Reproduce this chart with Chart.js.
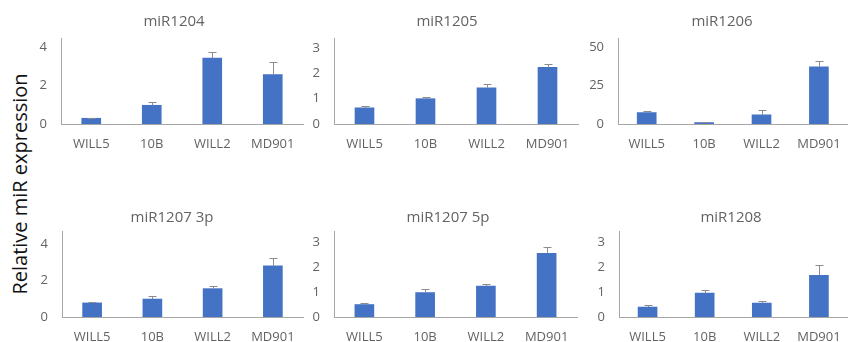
<!DOCTYPE html>
<html>
<head>
<meta charset="utf-8">
<script src="https://cdn.jsdelivr.net/npm/chart.js@4.4.1/dist/chart.umd.min.js"></script>
<style>
  html, body { margin: 0; padding: 0; background: #fff; }
  #wrap { position: relative; width: 853px; height: 342px; overflow: hidden; }
  #wrap canvas { position: absolute; }
  #ylabel {
    position: absolute; left: 19px; top: 184px;
    transform: translate(-50%, -50%) rotate(-90deg);
    white-space: nowrap; font-family: "Open Sans", sans-serif; font-size: 20px; color: #111;
  }
</style>
</head>
<body>
<div id="wrap">
  <div id="ylabel">Relative miR expression</div>
</div>
<script>
// ---- Data ----
const categories = ['WILL5', '10B', 'WILL2', 'MD901'];
const panelTitles = ['miR1204', 'miR1205', 'miR1206', 'miR1207 3p', 'miR1207 5p', 'miR1208'];

const miR1204Values = [0.30, 0.98, 3.45, 2.58];
const miR1204Errors = [0.03, 0.16, 0.32, 0.67];
const miR1205Values = [0.64, 1.00, 1.43, 2.24];
const miR1205Errors = [0.06, 0.05, 0.14, 0.15];
const miR1206Values = [7.4, 1.0, 5.9, 37.3];
const miR1206Errors = [1.3, 0.3, 3.3, 3.7];
const miR1207_3pValues = [0.77, 0.98, 1.55, 2.80];
const miR1207_3pErrors = [0.07, 0.15, 0.13, 0.40];
const miR1207_5pValues = [0.50, 0.98, 1.24, 2.55];
const miR1207_5pErrors = [0.08, 0.15, 0.09, 0.26];
const miR1208Values = [0.40, 0.96, 0.56, 1.67];
const miR1208Errors = [0.10, 0.12, 0.07, 0.40];

const yTicks1204 = [0, 2, 4];
const yTicks1205 = [0, 1, 2, 3];
const yTicks1206 = [0, 25, 50];
const yTicks1207_3p = [0, 2, 4];
const yTicks1207_5p = [0, 1, 2, 3];
const yTicks1208 = [0, 1, 2, 3];

const yMax = [4.5, 3.4, 56, 4.7, 3.45, 3.45];

// ---- Layout (page pixels) ----
const panels = [
  { values: miR1204Values, errors: miR1204Errors, ticks: yTicks1204,
    left: 30, top: 0, width: 280, height: 170, axisX: 61, right: 303, plotTop: 38, plotBottom: 124, titleX: 174, titleY: 22 },
  { values: miR1205Values, errors: miR1205Errors, ticks: yTicks1205,
    left: 310, top: 0, width: 280, height: 170, axisX: 334, right: 578, plotTop: 38, plotBottom: 124, titleX: 447, titleY: 22 },
  { values: miR1206Values, errors: miR1206Errors, ticks: yTicks1206,
    left: 590, top: 0, width: 263, height: 170, axisX: 618, right: 850, plotTop: 38, plotBottom: 124, titleX: 722, titleY: 22 },
  { values: miR1207_3pValues, errors: miR1207_3pErrors, ticks: yTicks1207_3p,
    left: 30, top: 170, width: 280, height: 172, axisX: 62, right: 303, plotTop: 231, plotBottom: 317, titleX: 172, titleY: 218 },
  { values: miR1207_5pValues, errors: miR1207_5pErrors, ticks: yTicks1207_5p,
    left: 310, top: 170, width: 280, height: 172, axisX: 334, right: 577, plotTop: 231, plotBottom: 317, titleX: 448, titleY: 218 },
  { values: miR1208Values, errors: miR1208Errors, ticks: yTicks1208,
    left: 590, top: 170, width: 263, height: 172, axisX: 619, right: 850, plotTop: 231, plotBottom: 317, titleX: 731, titleY: 218 }
];

const FONT = '"Open Sans", sans-serif';
const TEXT_GRAY = '#636363';

// error bars: plus side only, with a small cap
const errorBarPlugin = {
  id: 'errorBars',
  afterDatasetsDraw(chart, args, opts) {
    const ctx = chart.ctx;
    const yScale = chart.scales.y;
    chart.data.datasets.forEach((ds, di) => {
      const meta = chart.getDatasetMeta(di);
      meta.data.forEach((bar, i) => {
        const v = ds.data[i], e = ds.errors[i];
        const yTop = Math.round(yScale.getPixelForValue(v + e)) + 0.5;
        const x = Math.round(bar.x) + 0.5;
        ctx.save();
        ctx.strokeStyle = '#8c8c8c';
        ctx.lineWidth = 1;
        ctx.beginPath();
        ctx.moveTo(x, bar.y);
        ctx.lineTo(x, yTop);
        ctx.moveTo(x - 4, yTop);
        ctx.lineTo(x + 4, yTop);
        ctx.stroke();
        ctx.restore();
      });
    });
  }
};

const panelTitlePlugin = {
  id: 'panelTitle',
  afterDraw(chart, args, opts) {
    const ctx = chart.ctx;
    ctx.save();
    ctx.font = '15px ' + FONT;
    ctx.fillStyle = TEXT_GRAY;
    ctx.textAlign = 'center';
    ctx.textBaseline = 'middle';
    ctx.fillText(opts.text, opts.x, opts.y);
    ctx.restore();
  }
};

const wrap = document.getElementById('wrap');

panels.forEach((p, idx) => {
  const canvas = document.createElement('canvas');
  canvas.style.left = p.left + 'px';
  canvas.style.top = p.top + 'px';
  canvas.style.width = p.width + 'px';
  canvas.style.height = p.height + 'px';
  canvas.width = p.width;
  canvas.height = p.height;
  wrap.appendChild(canvas);

  const yAxisWidth = p.axisX - p.left;
  const xAxisHeight = p.top + p.height - p.plotBottom;

  new Chart(canvas.getContext('2d'), {
    type: 'bar',
    data: {
      labels: categories,
      datasets: [{
        data: p.values,
        errors: p.errors,
        backgroundColor: '#4472C4',
        borderWidth: 0,
        barThickness: 19,
        categoryPercentage: 1,
        barPercentage: 0.31
      }]
    },
    plugins: [errorBarPlugin, panelTitlePlugin],
    options: {
      responsive: false,
      animation: false,
      devicePixelRatio: 1,
      layout: {
        padding: { top: p.plotTop - p.top, right: p.left + p.width - p.right, left: 0, bottom: 0 }
      },
      plugins: {
        legend: { display: false },
        tooltip: { enabled: false },
        panelTitle: { text: panelTitles[idx], x: p.titleX - p.left, y: p.titleY - p.top }
      },
      scales: {
        x: {
          offset: true,
          grid: { display: false, drawTicks: false },
          border: { display: true, color: '#a6a6a6', width: 1 },
          ticks: { color: TEXT_GRAY, font: { family: FONT, size: 13 }, padding: 12, maxRotation: 0, autoSkip: false },
          afterFit(scale) { scale.height = xAxisHeight; }
        },
        y: {
          min: 0,
          max: yMax[idx],
          grid: { display: false, drawTicks: false },
          border: { display: true, color: '#a6a6a6', width: 1 },
          ticks: { color: TEXT_GRAY, font: { family: FONT, size: 13 }, padding: 14 },
          afterBuildTicks(scale) { scale.ticks = p.ticks.map(v => ({ value: v })); },
          afterFit(scale) { scale.width = yAxisWidth; }
        }
      }
    }
  });
});
</script>
</body>
</html>
